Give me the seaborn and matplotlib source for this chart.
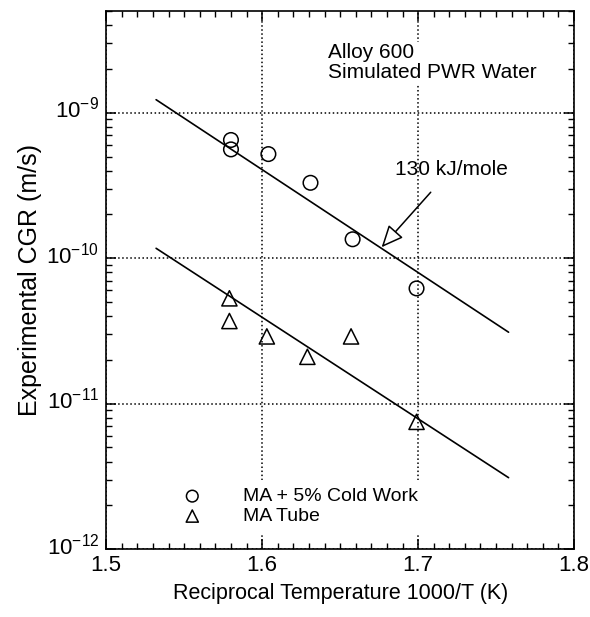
import pandas as pd
import numpy as np
import seaborn as sns
import matplotlib.pyplot as plt
import matplotlib.transforms as mtransforms
from matplotlib.ticker import MultipleLocator, LogLocator, FixedLocator

sns.set_style('ticks')
plt.rcParams['font.family'] = ['Liberation Sans', 'DejaVu Sans']
plt.rcParams['mathtext.fontset'] = 'custom'
plt.rcParams['mathtext.rm'] = 'Liberation Sans'
plt.rcParams['text.color'] = 'black'
plt.rcParams['axes.labelcolor'] = 'black'

# MA + 5% cold work (circles)
cw_x = [1.580, 1.580, 1.604, 1.631, 1.658, 1.699]
cw_y = [6.5e-10, 5.6e-10, 5.2e-10, 3.3e-10, 1.35e-10, 6.2e-11]

# MA tube (triangles)
tube_x = [1.579, 1.579, 1.603, 1.629, 1.657, 1.699]
tube_y = [5.3e-11, 3.7e-11, 2.9e-11, 2.1e-11, 2.9e-11, 7.5e-12]

# 130 kJ/mole fit lines
fit_x = [1.532, 1.758]
fit_upper = [1.23e-9, 3.1e-11]
fit_lower = [1.17e-10, 3.1e-12]

y_major = [1e-12, 1e-11, 1e-10, 1e-9]

fig = plt.figure(figsize=(5.9, 6.17), dpi=100)
ax = fig.add_axes([0.18, 0.11, 0.793, 0.872])
ax.set_yscale('log')

sns.lineplot(x=fit_x, y=fit_upper, color='black', lw=1.2, ax=ax)
sns.lineplot(x=fit_x, y=fit_lower, color='black', lw=1.2, ax=ax)

sns.scatterplot(x=cw_x, y=cw_y, marker='o', s=110, facecolors='none', edgecolor='black',
                linewidth=1.1, label='MA + 5% Cold Work', ax=ax, zorder=3)
sns.scatterplot(x=tube_x, y=tube_y, marker='^', s=120, facecolors='none', edgecolor='black',
                linewidth=1.1, label='MA Tube', ax=ax, zorder=3)

ax.set_xlim(1.5, 1.8)
ax.set_ylim(1e-12, 5e-9)
ax.xaxis.set_major_locator(MultipleLocator(0.1))
ax.xaxis.set_minor_locator(MultipleLocator(0.01))
ax.yaxis.set_major_locator(FixedLocator(y_major))
ax.yaxis.set_minor_locator(LogLocator(base=10, subs=np.arange(2, 10), numticks=10))
ax.xaxis.set_major_formatter(plt.FuncFormatter(lambda v, p: '%.1f' % v))

ax.tick_params(which='both', direction='in', top=True, right=True, colors='black', labelsize=16)
ax.tick_params(which='major', length=7, width=1.1)
ax.tick_params(which='minor', length=4, width=1)
ax.tick_params(axis='x', which='major', pad=4)
ax.tick_params(axis='y', which='major', pad=5)
for s in ax.spines.values():
    s.set_color('black')
    s.set_linewidth(1.2)

# lift the y tick labels a little, as in the original
shift = mtransforms.ScaledTranslation(0, 4 / 72, fig.dpi_scale_trans)
for lab in ax.get_yticklabels():
    lab.set_transform(lab.get_transform() + shift)

ax.grid(True, which='major', ls=':', color='black', lw=1.1)

ax.set_xlabel('Reciprocal Temperature 1000/T (K)', fontsize=15.5, labelpad=5)
ax.set_ylabel('Experimental CGR (m/s)', fontsize=18, labelpad=3)

ax.text(1.642, 3.0e-9, 'Alloy 600\nSimulated PWR Water', fontsize=15, va='top', ha='left',
        linespacing=1.05, bbox=dict(fc='white', ec='none', pad=1))
ax.annotate('130 kJ/mole', xy=(1.6766, 1.19e-10), xytext=(1.6855, 4.1e-10),
            fontsize=15, va='center', ha='left',
            arrowprops=dict(arrowstyle='-|>,head_length=0.9,head_width=0.4', fc='white', ec='black',
                            lw=1.1, relpos=(0.42, 0), shrinkA=10, shrinkB=0))

leg = ax.legend(loc='lower left', bbox_to_anchor=(0.105, 0.012), fontsize=14, frameon=True,
                facecolor='white', edgecolor='none', framealpha=1, fancybox=False,
                handletextpad=1.6, labelspacing=0.12, borderpad=0.4, markerscale=0.8)

fig.savefig('out.png', dpi=100)
